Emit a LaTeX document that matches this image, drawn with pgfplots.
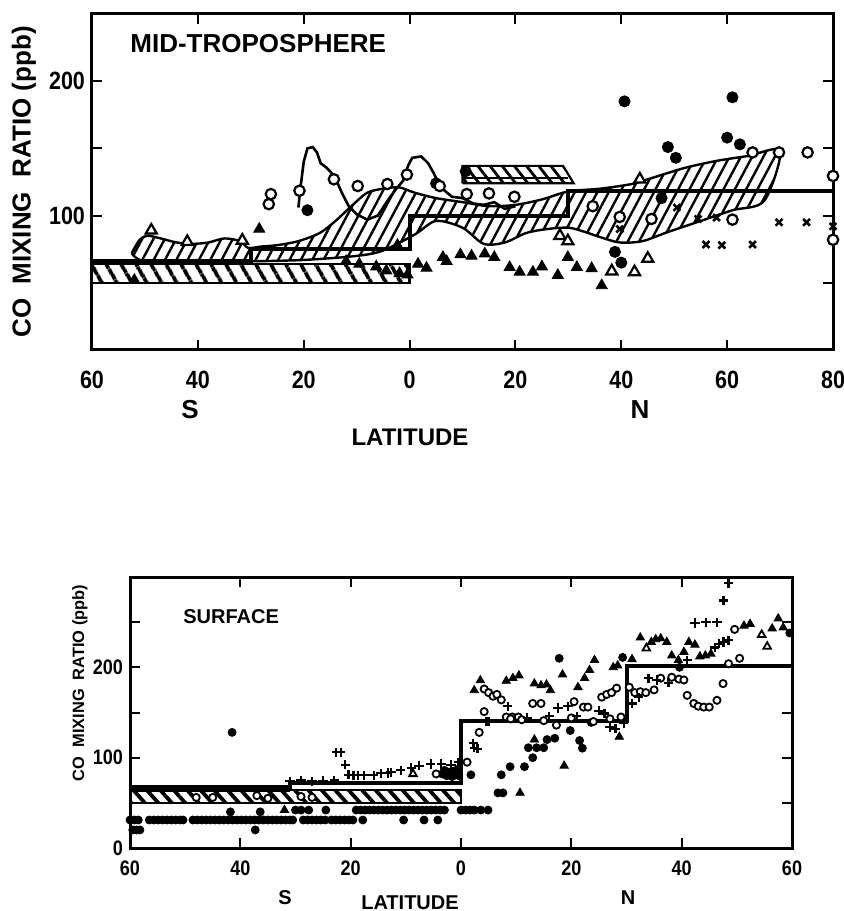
\documentclass[border=0pt]{standalone}
\usepackage{fontspec}
\setmainfont{Liberation Sans}
\usepackage{graphicx}
\usepackage{pgfplots}
\pgfplotsset{compat=1.18}
\usetikzlibrary{patterns.meta}

\newcommand{\cnd}[1]{\scalebox{0.86}[1]{#1}}

\pgfplotsset{
  panel/.style={
    scale only axis, anchor=south west, clip=false,
    axis line style={line width=1.5pt},
    tick style={line width=1pt, black},
    major tick length=5pt, tick align=inside,
    minor tick num=0,
  },
  fdot/.style={only marks, mark=*, mark size=#1, mark options={draw=black, fill=black}},
  odot/.style={only marks, mark=*, mark size=#1, mark options={draw=black, fill=white, line width=1.1pt}},
  odots/.style={only marks, mark=*, mark size=#1, mark options={draw=black, fill=white, line width=0.9pt}},
  ftri/.style={only marks, mark=triangle*, mark size=#1, mark options={draw=black, fill=black}},
  otri/.style={only marks, mark=triangle*, mark size=#1, mark options={draw=black, fill=white, line width=1.1pt}},
  otris/.style={only marks, mark=triangle*, mark size=#1, mark options={draw=black, fill=white, line width=0.9pt}},
  xmk/.style={only marks, mark=x, mark size=#1, mark options={draw=black, line width=1.3pt}},
  pmk/.style={only marks, mark=+, mark size=#1, mark options={draw=black, line width=1.1pt}},
}

\begin{document}
\begin{tikzpicture}
\useasboundingbox (0,0) rectangle (422pt,455.5pt);

% ---------------- mid-troposphere ----------------
\begin{axis}[panel,
  at={(46pt,280.5pt)}, width=370.5pt, height=168pt,
  xmin=-60, xmax=80, ymin=0, ymax=250,
  xtick={-60,-40,...,80},
  xticklabels={\cnd{60},\cnd{40},\cnd{20},\cnd{0},\cnd{20},\cnd{40},\cnd{60},\cnd{80}},
  ytick={0,50,...,250}, yticklabels={,,\cnd{100},,\cnd{200},},
  ticklabel style={font=\bfseries\fontsize{12.5}{12.5}\selectfont},
  xticklabel style={yshift=-7pt},
]
% southern reference band
\addplot[draw=black, line width=1.1pt, pattern={Lines[angle=-60,distance=6.5pt,line width=2.1pt]}]
  coordinates {(-60,50) (0,50) (0,64) (-60,64) (-60,50)};
% northern reference band
\addplot[draw=black, line width=1.1pt, pattern={Lines[angle=-52,distance=4.8pt,line width=1.4pt]}]
  coordinates {(10,124) (31,124) (29,137) (10,137) (10,124)};
\addplot[black, line width=1pt] coordinates {(10,128) (30,128)};
% envelope of the aircraft profiles
\addplot[draw=black, line width=1.2pt, smooth, tension=0.5,
  pattern={Lines[angle=62,distance=5pt,line width=1.2pt]}]
  coordinates {
  (-52.5,72) (-51,82) (-49.5,85) (-47,83) (-44,80) (-41,79) (-38,80) (-35,83)
  (-32,81) (-30.5,76) (-28,77) (-25,78) (-21,81) (-17,87) (-14,96) (-11,107)
  (-8,117) (-5,120) (-2,121) (1,117) (5,113) (10,110) (15,107) (20,108) (25,112)
  (30,118) (36,120) (42,123.5) (45,127) (52,135.5) (58,140.7) (64,144.4) (70,148)
  (67,111) (61,104) (55,96) (48.6,87.5) (44,81) (39.7,80) (36,84) (33,88) (30,91)
  (26,90) (22,87) (18,80) (14,79) (10,91) (5,96) (1,86) (-5,74) (-10,70)
  (-20,67) (-30,66) (-40,66) (-50,66) (-52.5,72)};
% zonal means
\addplot[black, line width=2pt]
  coordinates {(-60,66) (-30,66) (-30,75) (0,75) (0,100) (30,100) (30,118) (80,118)};
% single flight profile
\addplot[black, line width=1.3pt]
  coordinates {(-21,106) (-20.7,118) (-20,140) (-19.3,150) (-18.3,151) (-17.5,147)
  (-16.8,139) (-15.8,136) (-14.8,132) (-13.8,126) (-12.8,117) (-11.5,107) (-10,101)
  (-8,97) (-6,100) (-4,112) (-2.5,120) (-1.2,126) (-0.3,137) (0.5,143) (2.2,144)
  (3.5,139) (4.5,132) (5.5,124) (6.5,119) (8,114) (10,113) (12,109) (14,108)
  (16,110) (18,105) (20,107)};
% observations
\addplot[fdot=2.8pt] coordinates {(-19.3,104) (5,124) (10.6,133) (40.6,185) (61,188)
  (48.8,151) (50.3,143) (60,158) (62.4,153) (47.6,113) (38.8,73) (40,65)};
\addplot[odot=2.6pt] coordinates {(-26.2,116) (-26.6,108.5) (-20.8,118.5) (-14.3,127)
  (-9.8,122) (-4.2,123.5) (-0.5,130.5) (5.7,122) (10.8,116) (15,116.5) (19.8,114)
  (34.6,107) (39.7,99) (45.7,97.5) (61,97) (64.8,147) (69.8,147) (75.2,147)
  (80,129.5) (80,82)};
\addplot[ftri=3.2pt] coordinates {(-52,52) (-28.4,90) (-2.3,78) (-12,66) (-9.5,64)
  (-6.3,62) (-4.4,59) (-1.9,57) (-0.4,56) (1.6,64) (3.2,61) (6.3,69) (7,66)
  (9.6,71) (11.7,70) (14.2,71.6) (16,69) (18.9,61.5) (20.8,58) (23.3,58) (25,62)
  (28,55.6) (29.9,69) (31.6,61.5) (34.4,60.7) (36.3,48)};
\addplot[otri=3.2pt] coordinates {(-48.8,89) (-42,80.5) (-31.6,81.5) (28.4,85) (29.9,81)
  (38.2,58.6) (42.5,58) (45,68) (43.5,127)};
\addplot[xmk=2.4pt] coordinates {(56,78.5) (59,78) (64.8,78.5) (69.8,95) (75,95) (80,92)
  (50.5,106) (54.5,97.5) (58,98.5) (39.7,90)};
\end{axis}

% ---------------- surface ----------------
\begin{axis}[panel,
  at={(65pt,31.5pt)}, width=331pt, height=135.5pt,
  xmin=-60, xmax=60, ymin=0, ymax=300,
  xtick={-60,-40,...,60},
  xticklabels={\cnd{60},\cnd{40},\cnd{20},\cnd{0},\cnd{20},\cnd{40},\cnd{60}},
  ytick={0,50,...,300}, yticklabels={\cnd{0},,\cnd{100},,\cnd{200},,},
  ticklabel style={font=\bfseries\fontsize{10.5}{10.5}\selectfont},
  xticklabel style={yshift=-3pt},
]
\addplot[draw=black, line width=1pt, pattern={Lines[angle=-48,distance=5pt,line width=1.9pt]}]
  coordinates {(-60,50) (0,50) (0,64) (-60,64) (-60,50)};
\addplot[black, line width=2pt]
  coordinates {(-60,67) (-31,67) (-31,72) (0,72) (0,141) (30,141) (30,202) (60,202)};
\addplot[black, line width=3.2pt] coordinates {(-60,66) (-31,66)};
% ship and station records
\addplot[fdot=2pt] coordinates {
  (-60,31) (-59.2,31) (-58.5,31)
  (-56.5,31) (-55.7,31) (-54.9,31) (-54.1,31) (-53.3,31) (-52.5,31) (-51.7,31) (-50.9,31) (-50.4,31)
  (-48.6,31) (-47.8,31) (-47,31) (-46.2,31) (-45.4,31) (-44.6,31) (-43.8,31) (-43,31) (-42.2,31)
  (-41.4,31) (-40.6,31) (-39.8,31) (-39,31) (-38.2,31) (-37.4,31) (-36.6,31) (-35.8,31) (-35,31)
  (-34.2,31) (-33.4,31) (-32.6,31) (-31.8,31) (-31,31) (-30.5,31)
  (-28.6,31) (-27.8,31) (-27,31) (-26.2,31) (-25.4,31) (-24.6,31)
  (-23.5,31) (-22.7,31) (-21.9,31) (-21.1,31) (-20.3,31) (-19.6,31)
  (-59.5,20) (-58.8,20) (-58.2,20) (-37.3,20)
  (-17.8,31) (-10.4,31) (-6.7,31) (-4.2,31)
  (-19,42) (-18.2,42) (-17.4,42) (-16.6,42) (-15.8,42) (-15,42) (-14.2,42) (-13.4,42)
  (-12.6,42) (-11.8,42) (-11,42) (-10.2,42) (-9.4,42) (-8.6,42) (-7.8,42) (-7,42)
  (-6.2,42) (-5.4,42) (-4.6,42) (-3.8,42) (-3,42)
  (0,42) (0.8,42) (1.6,42) (2.4,42) (3.6,42) (4.9,42)
  (-41.5,128) (-41.8,40) (-36.4,40) (-30,42) (-29,42) (-27.6,42) (-24.5,42)
  (-3,86) (-2.2,84) (-1.4,85) (-0.6,87) (-2.6,80) (-1.6,79) (-0.4,80) (-3.4,82)
  (1.8,81) (6.7,61) (7.6,61) (7.3,81) (8.9,90) (11.5,90) (12.2,111) (13,100)
  (13.7,111) (15,111) (15.6,120) (17,121.5) (17.8,210) (19.8,130) (21.5,119)
  (22,110.5) (23.6,139) (29.3,211) (39.6,200) (59.6,238)};
\addplot[odots=1.8pt] coordinates {
  (-48,56) (-45,56) (-37,58) (-35,55) (-29,57) (-27,56) (-4.5,82)
  (1.1,95) (3.3,128) (4.2,151) (4.2,176) (5,172) (5.8,168) (6.5,170) (7.3,164)
  (8.2,145) (9.3,145) (10.4,145) (13,160) (14.5,160) (17.3,136) (20.5,162) (22.2,156)
  (23,156) (25.5,167) (26.4,170) (27.3,172) (28.2,177) (30.5,178) (31.5,172)
  (32.5,173) (33.5,172) (35,175) (36.2,188) (38.2,189) (39.5,187) (40.4,186) (41,169)
  (42.2,160) (43,157) (44,156) (45,156) (46.4,163.5) (47.5,182) (48.5,204) (50.5,210)
  (49.6,242) (9,143) (11,142) (15,141) (20,144) (24,140) (27,143) (29,145)};
\addplot[pmk=2.3pt] coordinates {
  (-22.6,106) (-21.8,106) (-21,92) (-20.4,81) (-19.5,80.6) (-18.6,80.6) (-17.6,80.6)
  (-15.8,80.6) (-14.5,82.7) (-13.3,83) (-12.7,84) (-10.9,86) (-9,88.5) (-7.6,91)
  (-5.5,93) (-3.6,93) (-1.8,92) (-0.5,95)
  (-31,74) (-29,75) (-27,74) (-25,74.5) (-23,75)
  (2.2,116) (3,110) (2.4,111) (4.5,140) (8.5,157) (17.6,155) (19.4,157) (25,152)
  (26,149) (27,134) (31,160) (32.2,167) (34,188) (35.5,186) (37.6,183) (41,208)
  (42.4,249) (44.4,250) (46.4,250) (47.6,274) (48.5,293) (46,222) (46.8,226)
  (47.6,228) (48.5,230) (5,140) (12,144) (16,146) (21,146) (28,132) (29.5,138)};
\addplot[ftri=2.4pt] coordinates {
  (2.4,174.6) (3.5,185.6) (8.2,185) (9.4,188) (10.5,191) (13.3,182) (14.5,180)
  (15.5,181) (16.2,174.6) (18.4,192) (21.2,178) (22.4,188) (23.3,197) (24.2,208)
  (27.6,200) (28.4,202) (31,209) (32.5,233) (34.5,228) (35.3,231) (36.2,232)
  (37.3,228) (38.2,213) (39.4,208) (40.4,217) (41.3,228) (42.4,225) (43.3,212)
  (44.3,213) (45.3,215) (51.3,246) (52.4,248) (56.4,243) (57.5,254) (58.4,244)
  (13.3,120) (18.7,91) (10.7,61) (28.7,123) (-32,42)};
\addplot[otris=2.2pt] coordinates {
  (54.5,236) (55.5,223) (-8.7,82) (33.6,221)};
\end{axis}

% ---------------- labels ----------------
\node[anchor=west, inner sep=0, font=\bfseries\fontsize{13}{13}\selectfont] at (65pt,433.5pt) {MID-TROPOSPHERE};
\node[anchor=west, inner sep=0, font=\bfseries\fontsize{10}{10}\selectfont] at (91.5pt,147pt) {SURFACE};
\node[rotate=90, font=\bfseries\fontsize{13}{13}\selectfont] at (12pt,364.5pt) {CO\ \ MIXING\ \ RATIO (ppb)};
\node[rotate=90, font=\bfseries\fontsize{8.2}{8.2}\selectfont] at (40pt,114pt) {CO\ \ MIXING\ \ RATIO (ppb)};
\node[font=\bfseries\fontsize{13}{13}\selectfont] at (95pt,250.5pt) {S};
\node[font=\bfseries\fontsize{13}{13}\selectfont] at (320pt,250.5pt) {N};
\node[font=\bfseries\fontsize{12}{12}\selectfont] at (205pt,237pt) {LATITUDE};
\node[font=\bfseries\fontsize{10}{10}\selectfont] at (142.5pt,6.5pt) {S};
\node[font=\bfseries\fontsize{10}{10}\selectfont] at (314pt,6.5pt) {N};
\node[font=\bfseries\fontsize{10}{10}\selectfont] at (205pt,4pt) {LATITUDE};
\end{tikzpicture}
\end{document}
